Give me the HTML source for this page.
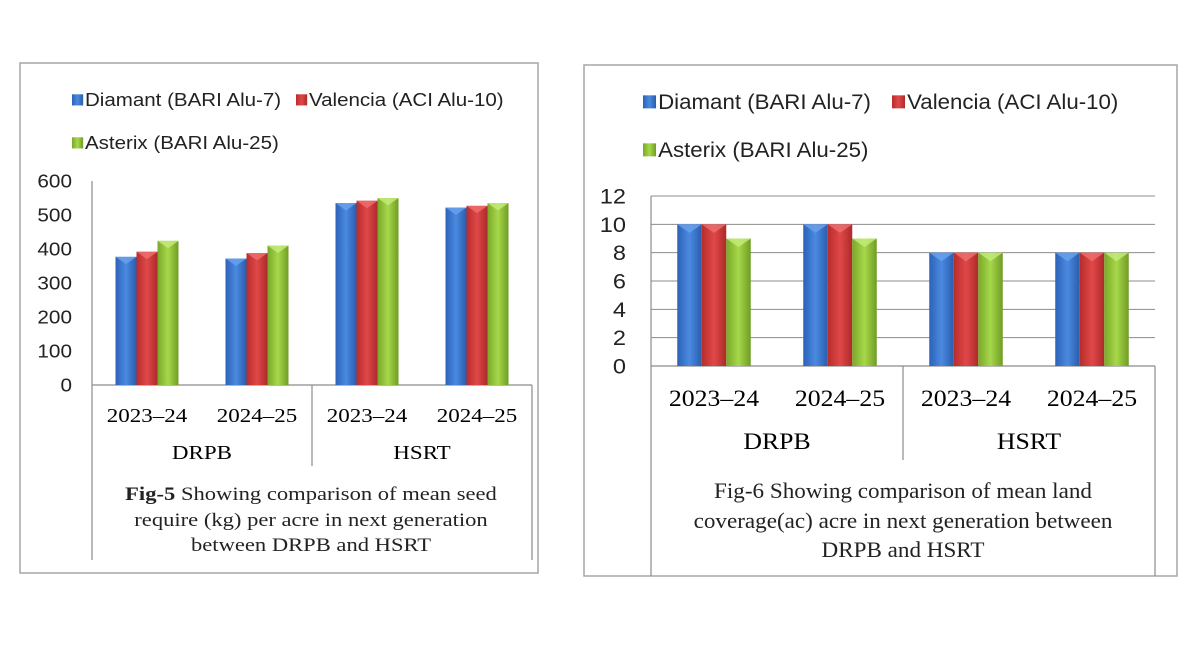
<!DOCTYPE html>
<html><head><meta charset="utf-8"><style>
body{margin:0;background:#fff;width:1201px;height:651px;overflow:hidden;font-family:"Liberation Sans",sans-serif}
svg{position:absolute;left:0;top:0}
</style></head><body>
<svg id="s" width="1201" height="651">
<defs>
<linearGradient id="gb" x1="0" x2="1"><stop offset="0" stop-color="#2c62b8"/><stop offset="0.5" stop-color="#4a8ae0"/><stop offset="1" stop-color="#2a5cad"/></linearGradient>
<linearGradient id="gr" x1="0" x2="1"><stop offset="0" stop-color="#b82c2c"/><stop offset="0.5" stop-color="#e04848"/><stop offset="1" stop-color="#ad2a2a"/></linearGradient>
<linearGradient id="gg" x1="0" x2="1"><stop offset="0" stop-color="#7aa82a"/><stop offset="0.5" stop-color="#a6d84a"/><stop offset="1" stop-color="#709c24"/></linearGradient>
</defs>
</svg>
<script>
const categories=["2023–24","2024–25","2023–24","2024–25"];
const groups=["DRPB","HSRT"];
const seriesNames=["Diamant (BARI Alu-7)","Valencia (ACI Alu-10)","Asterix (BARI Alu-25)"];
const seed_diamant=[377,372,535,522];
const seed_valencia=[392,388,542,527];
const seed_asterix=[424,410,550,535];
const seedTicks=[0,100,200,300,400,500,600];
const land_diamant=[10,10,8,8];
const land_valencia=[10,10,8,8];
const land_asterix=[9,9,8,8];
const landTicks=[0,2,4,6,8,10,12];

const NS="http://www.w3.org/2000/svg";
const svg=document.getElementById('s');
function mk(tag,attrs,parent,text){const e=document.createElementNS(NS,tag);for(const k in attrs)e.setAttribute(k,attrs[k]);if(text!==undefined)e.textContent=text;(parent||svg).appendChild(e);return e;}
function stretch(el,f){const w=el.getComputedTextLength();if(w>0){el.setAttribute('textLength',(w*f).toFixed(1));el.setAttribute('lengthAdjust','spacingAndGlyphs');}}
const fills=["url(#gb)","url(#gr)","url(#gg)"];
const tops=["#6aa2ee","#f07070","#c4ec7a"];

function chart(c,series,ticks,prefix){
  const g=mk('g',{});
  
  
  const box=mk('rect',{x:c.bx,y:c.by,width:c.bw,height:c.bh,fill:'none',stroke:'#a6a6a6','stroke-width':1.5},g);
  
  
  const max=ticks[ticks.length-1];
  const y=v=>c.y0-(v/max)*(c.y0-c.ytop);
  const gw=(c.x1-c.x0)/categories.length;
  ticks.forEach(t=>{
    if(c.grid&&t>0){const l=mk('line',{x1:c.x0,x2:c.x1,y1:y(t),y2:y(t),stroke:'#8c8c8c','stroke-width':1},g);
      
      }
    const tx=mk('text',{x:c.tickX,y:y(t)+c.tf*0.36,'text-anchor':'end','font-size':c.tf,fill:'#222'},g,String(t));
    
    
    stretch(tx,c.sTick);
  });
  const ax=mk('line',{x1:c.x0,x2:c.x0,y1:c.ytop,y2:c.frameBottom,stroke:'#8c8c8c','stroke-width':1.2},g);
  
  
  const ax2=mk('line',{x1:c.x0,x2:c.x1,y1:c.y0,y2:c.y0,stroke:'#8c8c8c','stroke-width':1.2},g);
  
  
  const r=mk('line',{x1:c.x1,x2:c.x1,y1:c.y0,y2:c.frameBottom,stroke:'#8c8c8c','stroke-width':1.2},g);
  
  
  const mid=(c.x0+c.x1)/2;
  const m=mk('line',{x1:mid,x2:mid,y1:c.y0,y2:c.midBottom,stroke:'#8c8c8c','stroke-width':1.2},g);
  
  
  categories.forEach((cat,i)=>{
    const cx=c.x0+gw*(i+0.5);
    series.forEach((s,j)=>{
      const bx=cx+(j-1.5)*c.barW;
      const top=y(s[i]);
      const b=mk('rect',{x:bx,y:top,width:c.barW,height:c.y0-top,fill:fills[j]},g);
      
      
      const p=mk('polygon',{points:`${bx},${top} ${bx+c.barW},${top} ${bx+c.barW/2},${top+c.barW*0.35}`,fill:tops[j],opacity:0.8},g);
      
      
    });
    const t=mk('text',{x:cx,y:c.catY,'text-anchor':'middle','font-size':c.cf,'font-family':'Liberation Serif, serif',fill:'#000'},g,cat);
    
    
    stretch(t,c.sCat);
  });
  groups.forEach((gn,k)=>{
    const t=mk('text',{x:c.x0+gw*(2*k+1),y:c.grpY,'text-anchor':'middle','font-size':c.cf,'font-family':'Liberation Serif, serif',fill:'#000'},g,gn);
    
    
    stretch(t,c.sCat);
  });
  c.legend.forEach((L,j)=>{
    const sw=mk('rect',{x:L[0],y:L[1]-c.lf*0.65,width:c.lf*0.62,height:c.lf*0.62,fill:fills[j]},g);
    
    
    const t=mk('text',{x:L[0]+c.lf*0.72,y:L[1],'font-size':c.lf,fill:'#222'},g,seriesNames[j]);
    
    
    stretch(t,c.sLeg);
  });
  c.caption.forEach((line,k)=>{
    const cap=mk('text',{x:c.capX,y:c.capY[k],'text-anchor':'middle','font-size':c.capF,'font-family':'Liberation Serif, serif',fill:'#222'},g);
    
    
    if(k===0&&c.boldLead){mk('tspan',{'font-weight':'bold'},cap,c.boldLead);}
    mk('tspan',{},cap,line);
    stretch(cap,c.sCap);
  });
}

chart({bx:20,by:63,bw:518,bh:510,x0:92,x1:532,y0:385,ytop:181,tickX:72,tf:18,grid:false,frameBottom:560,midBottom:466,
  barW:21,catY:422,grpY:459,cf:20,lf:18,sTick:1.15,sCat:1.15,sLeg:1.14,sCap:1.22,
  legend:[[72,106],[296,106],[72,149]],
  capX:311,capY:[500,526,551],capF:18.5,boldLead:"Fig-5",
  caption:["  Showing comparison of  mean seed","require (kg) per acre in next generation","between DRPB and HSRT"]},
  [seed_diamant,seed_valencia,seed_asterix],seedTicks,'seed');

chart({bx:584,by:65,bw:593,bh:511,x0:651,x1:1155,y0:366,ytop:196,tickX:626,tf:21,grid:true,frameBottom:576,midBottom:460,
  barW:24.5,catY:406,grpY:449,cf:23,lf:21,sTick:1.12,sCat:1.12,sLeg:1.06,sCap:1.05,
  legend:[[643,109],[892,109],[643,157]],
  capX:903,capY:[498,528,557],capF:22,boldLead:"",
  caption:["Fig-6   Showing comparison of  mean land","coverage(ac) acre in next generation  between","DRPB and HSRT"]},
  [land_diamant,land_valencia,land_asterix],landTicks,'land');
</script>
</body></html>
